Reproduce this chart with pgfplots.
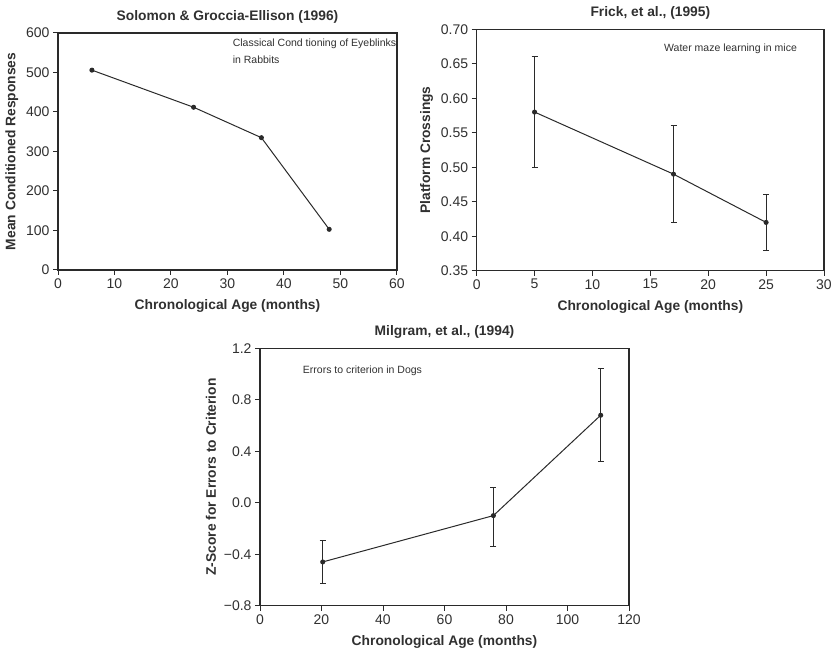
\documentclass[border=0pt]{standalone}
\usepackage{fontspec}
\setmainfont{Liberation Sans}
\usepackage{pgfplots}
\pgfplotsset{compat=1.18}
\definecolor{ink}{HTML}{2A2A2A}
\definecolor{txt}{HTML}{303030}
\tikzset{note/.style={font=\fontsize{10.5}{12}\selectfont, text=txt, anchor=west, inner sep=0pt}}
\pgfplotsset{
  panel/.style={
    scale only axis, anchor=south west,
    axis line style={ink, line width=1.1pt},
    tick align=outside, tick pos=left,
    major tick length=5pt,
    every tick/.style={ink, line width=1pt},
    tick label style={font=\fontsize{14}{16}\selectfont, text=txt},
    /pgf/number format/assume math mode=true,
    label style={font=\bfseries\fontsize{13.8}{16}\selectfont, text=txt},
    title style={font=\bfseries\fontsize{13.8}{16}\selectfont, text=txt},
    xlabel style={yshift=-4pt},
    ylabel style={yshift=1pt},
  },
  series/.style={ink, line width=1pt, mark=*, mark size=2pt,
    mark options={fill=ink, draw=ink},
    error bars/.cd, y dir=both, y explicit,
    error bar style={ink, line width=1pt},
    error mark options={ink, line width=1pt, mark size=3pt, rotate=90}},
}
\begin{document}
\begin{tikzpicture}
\path[use as bounding box] (0,0) rectangle (839pt,653pt);
% Panel 1
\begin{axis}[panel, at={(58pt,383pt)}, width=339pt, height=237pt,
  xmin=0, xmax=60, ymin=0, ymax=600,
  xtick={0,10,...,60}, ytick={0,100,...,600},
  title={Solomon \& Groccia-Ellison (1996)},
  xlabel={Chronological Age (months)},
  ylabel={Mean Conditioned Responses}]
\addplot[ink, line width=1pt, mark=*, mark size=2pt, mark options={fill=ink, draw=ink}]
  coordinates {(6,506) (24,412) (36,335) (48,103)};
\node[note] at (axis cs:30.9,572) {Classical Cond tioning of Eyeblinks};
\node[note] at (axis cs:30.9,532) {in Rabbits};
\end{axis}
% Panel 2
\begin{axis}[panel, at={(476.7pt,382.3pt)}, width=347.3pt, height=241.4pt,
  xmin=0, xmax=30, ymin=0.35, ymax=0.70,
  xtick={0,5,...,30}, ytick={0.35,0.40,0.45,0.50,0.55,0.60,0.65,0.70},
  yticklabel style={/pgf/number format/.cd, fixed, fixed zerofill, precision=2},
  title={Frick, et al., (1995)},
  xlabel={Chronological Age (months)},
  ylabel={Platform Crossings}]
\addplot[series] table[x=x, y=y, y error=e] {
x y e
5 0.58 0.08
17 0.49 0.07
25 0.42 0.04
};
\node[note] at (axis cs:16.18,0.672) {Water maze learning in mice};
\end{axis}
% Panel 3
\begin{axis}[panel, at={(260pt,47.3pt)}, width=369pt, height=257.4pt,
  xmin=0, xmax=120, ymin=-0.8, ymax=1.2,
  xtick={0,20,...,120}, ytick={-0.8,-0.4,0,0.4,0.8,1.2},
  yticklabels={−0.8,−0.4,0.0,0.4,0.8,1.2},
  title={Milgram, et al., (1994)},
  xlabel={Chronological Age (months)},
  ylabel={Z-Score for Errors to Criterion}]
\addplot[series] table[x=x, y=y, y error plus=ep, y error minus=em] {
x y ep em
20.4 -0.46 0.17 0.17
75.9 -0.10 0.22 0.24
110.8 0.68 0.36 0.36
};
\node[note] at (axis cs:13.9,1.026) {Errors to criterion in Dogs};
\end{axis}
\end{tikzpicture}
\end{document}
